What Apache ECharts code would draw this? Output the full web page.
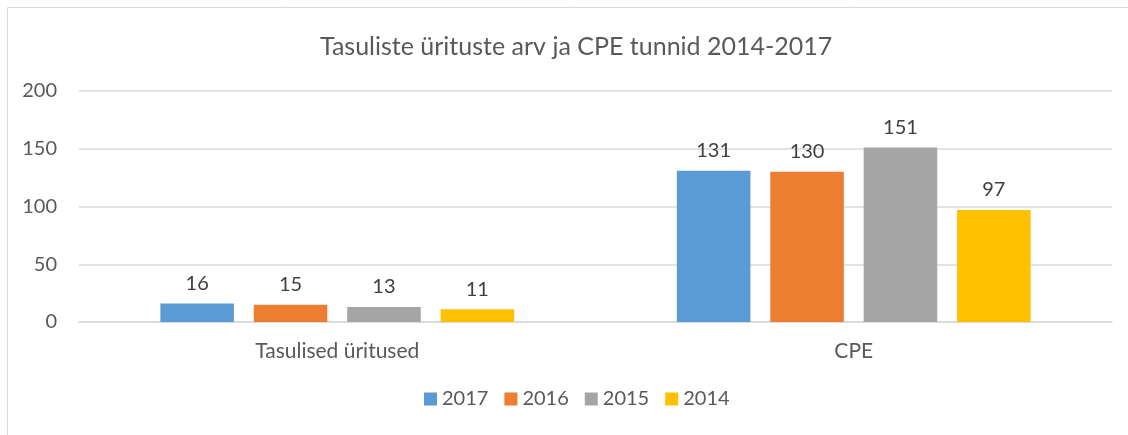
<!DOCTYPE html>
<html>
<head>
<meta charset="utf-8">
<script src="https://cdn.jsdelivr.net/npm/echarts@6/dist/echarts.min.js"></script>
<style>
  html, body { margin: 0; padding: 0; background: #fff; }
  #chart { width: 1128px; height: 435px; }
</style>
</head>
<body>
<div id="chart"></div>
<script>
const CATEGORIES = ['Tasulised üritused', 'CPE'];
const YEARS = ['2017', '2016', '2015', '2014'];
const VALUES_2017 = [16, 131];
const VALUES_2016 = [15, 130];
const VALUES_2015 = [13, 151];
const VALUES_2014 = [11, 97];
const Y_TICKS = [0, 50, 100, 150, 200];

const COLORS = ['#5B9BD5', '#ED7D31', '#A5A5A5', '#FFC000'];
const FONT = 'Lato, "Open Sans", sans-serif';

const seriesValues = [VALUES_2017, VALUES_2016, VALUES_2015, VALUES_2014];

const chart = echarts.init(document.getElementById('chart'));

chart.setOption({
  animation: false,
  color: COLORS,
  textStyle: { fontFamily: FONT },
  title: {
    text: 'Tasuliste ürituste arv ja CPE tunnid 2014-2017',
    left: 315,
    top: 29,
    textStyle: { fontFamily: FONT, fontSize: 25, fontWeight: 'normal', color: '#595959' },
  },
  // Frame of the chart area: left and top edges only show in the picture.
  graphic: [{
    type: 'rect',
    silent: true,
    shape: { x: 7.5, y: 7.5, width: 1300, height: 600 },
    style: { fill: 'none', stroke: '#d9d9d9', lineWidth: 1 },
  }],
  grid: { left: 79, right: 16, top: 91, bottom: 113 },
  legend: {
    bottom: 21,
    left: 419,
    itemWidth: 13,
    itemHeight: 13,
    itemGap: 16,
    icon: 'rect',
    textStyle: { fontFamily: FONT, fontSize: 20, color: '#595959' },
    data: YEARS,
  },
  xAxis: {
    type: 'category',
    data: CATEGORIES,
    axisLine: { lineStyle: { color: '#d9d9d9', width: 1.5 } },
    axisTick: { show: false },
    axisLabel: { fontFamily: FONT, fontSize: 21, color: '#595959', margin: 19 },
  },
  yAxis: {
    type: 'value',
    min: Y_TICKS[0],
    max: Y_TICKS[Y_TICKS.length - 1],
    interval: 50,
    axisLine: { show: false },
    axisTick: { show: false },
    axisLabel: { fontFamily: FONT, fontSize: 20, color: '#595959', margin: 22 },
    splitLine: { lineStyle: { color: '#d9d9d9', width: 1.5 } },
  },
  series: YEARS.map((year, i) => ({
    name: year,
    type: 'bar',
    data: seriesValues[i],
    barGap: '27%',
    barCategoryGap: '31.5%',
    label: {
      show: true,
      position: 'top',
      distance: 10,
      fontFamily: FONT,
      fontSize: 20,
      color: '#404040',
    },
  })),
});
</script>
</body>
</html>
